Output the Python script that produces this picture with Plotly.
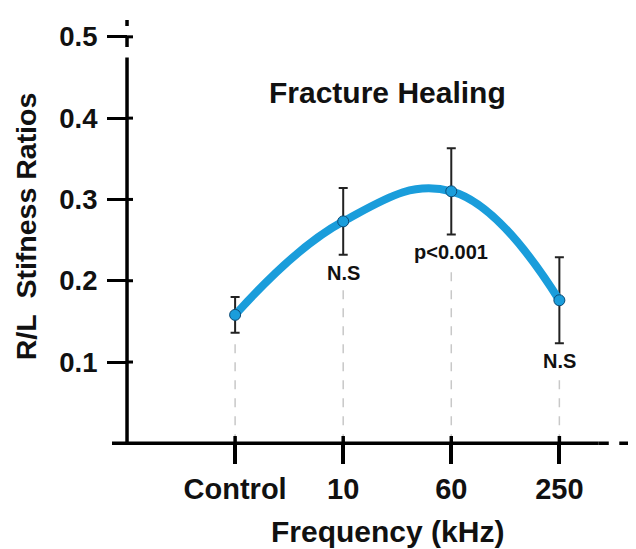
import plotly.graph_objects as go

categories = ["Control", "10", "60", "250"]
ratios = [0.158, 0.273, 0.310, 0.176]
errors = [0.022, 0.041, 0.053, 0.053]
sig_labels = ["", "N.S", "p<0.001", "N.S"]
y_ticks = [0.1, 0.2, 0.3, 0.4, 0.5]
y_tick_text = ["0.1", "0.2", "0.3", "0.4", "0.5"]

FONT = "Liberation Sans, Arial, sans-serif"
BLUE = "#1a9ddb"
INK = "#111111"

# page body adds an 8px margin, so the figure is 8px smaller than the window
W, H = 628, 541
ML, MR, MT, MB = 104, 0, 12, 89
xr = [-1.139, 3.709]
yr = [-0.0205, 0.5207]

def xfrac(v):
    return (v - xr[0]) / (xr[1] - xr[0])

def yfrac(v):
    return (v - yr[0]) / (yr[1] - yr[0])

fig = go.Figure()

xs = list(range(len(categories)))

fig.add_trace(go.Scatter(
    x=xs, y=ratios, mode="lines+markers",
    line=dict(color=BLUE, width=8, shape="spline", smoothing=1.2),
    marker=dict(size=11, color=BLUE, line=dict(color="#0b4a75", width=1)),
    error_y=dict(type="data", array=errors, visible=True, color="#222222",
                 thickness=2, width=4.5),
    showlegend=False, hoverinfo="skip",
))

shapes = []
annotations = []

for i, (v, e, lab) in enumerate(zip(ratios, errors, sig_labels)):
    if lab:
        ly = v - e - 0.022
        annotations.append(dict(x=i, y=ly, xref="x", yref="y", text=lab, showarrow=False,
                                font=dict(family=FONT, size=20, color=INK, weight="bold"),
                                xanchor="center", yanchor="middle"))
        top = ly - 0.016
    else:
        top = v - e - 0.013
    shapes.append(dict(type="line", xref="x", yref="y", x0=i, x1=i, y0=0, y1=top,
                       line=dict(color="#c8c8c8", width=1.5, dash="dash"), layer="below"))
    shapes.append(dict(type="line", xref="x", yref="y", x0=i, x1=i, y0=0, y1=0.009,
                       line=dict(color="black", width=3.5)))

y_solid_top = 0.4616
x_solid_end = 3.36
shapes += [
    dict(type="line", xref="x", yref="y", x0=-1, x1=-1, y0=0, y1=y_solid_top,
         line=dict(color="black", width=3.5)),
    dict(type="line", xref="x", yref="y", x0=-1, x1=-1, y0=y_solid_top, y1=yr[1],
         line=dict(color="black", width=3.5, dash="dash")),
    dict(type="line", xref="x", yref="y", x0=xr[0], x1=x_solid_end, y0=0, y1=0,
         line=dict(color="black", width=3.5)),
    dict(type="line", xref="x", yref="y", x0=x_solid_end, x1=xr[1], y0=0, y1=0,
         line=dict(color="black", width=3.5, dash="dash")),
]
for t in y_ticks:
    shapes.append(dict(type="line", xref="x", yref="y", x0=-1, x1=-1 + 6 / 108.1, y0=t, y1=t,
                       line=dict(color="black", width=3)))

annotations += [
    dict(x=xfrac(1.414), y=yfrac(0.432), xref="paper", yref="paper",
         text="Fracture Healing", showarrow=False,
         font=dict(family=FONT, size=30, color=INK, weight="bold"),
         xanchor="center", yanchor="middle"),
    dict(x=xfrac(1.414), y=yfrac(-0.109), xref="paper", yref="paper",
         text="Frequency (kHz)", showarrow=False,
         font=dict(family=FONT, size=30, color=INK, weight="bold"),
         xanchor="center", yanchor="middle"),
    dict(x=xfrac(-1.934), y=yfrac(0.267), xref="paper", yref="paper",
         text="R/L\u00a0 Stifness Ratios", showarrow=False, textangle=-90,
         font=dict(family=FONT, size=28.5, color=INK, weight="bold"),
         xanchor="center", yanchor="middle"),
]

fig.update_layout(
    width=W, height=H,
    margin=dict(l=ML, r=MR, t=MT, b=MB, autoexpand=False),
    plot_bgcolor="white", paper_bgcolor="white",
    shapes=shapes, annotations=annotations,
    xaxis=dict(range=xr, anchor="free", position=yfrac(0),
               tickmode="array", tickvals=xs, ticktext=categories,
               ticks="outside", ticklen=20, tickwidth=3.5, tickcolor="black",
               showline=False, showgrid=False, zeroline=False,
               tickfont=dict(family=FONT, size=29, color=INK, weight="bold")),
    yaxis=dict(range=yr, anchor="free", position=xfrac(-1),
               tickmode="array", tickvals=y_ticks, ticktext=y_tick_text,
               ticks="outside", ticklen=20, tickwidth=3, tickcolor="black",
               ticklabelstandoff=4,
               showline=False, showgrid=False, zeroline=False,
               tickfont=dict(family=FONT, size=27.5, color=INK, weight="bold")),
)

fig.write_html("out.html")
